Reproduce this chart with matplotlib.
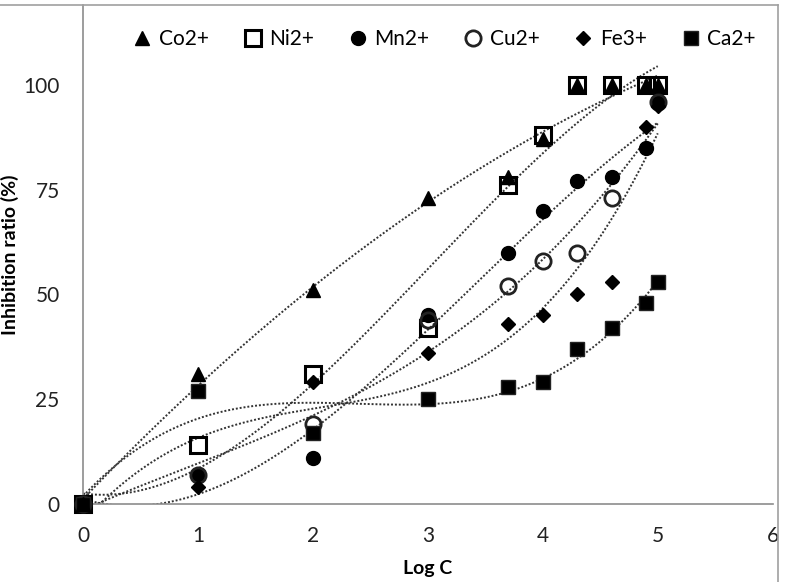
import matplotlib.pyplot as plt
import matplotlib.lines as mlines
import numpy as np

plt.rcParams['font.family'] = ['Lato', 'DejaVu Sans']

# data (Log C vs inhibition ratio %)
log_c = [0, 1, 2, 3, 3.7, 4, 4.3, 4.6, 4.9, 5]
co = [0, 31, 51, 73, 78, 87, 100, 100, 100, 100]
ni = [0, 14, 31, 42, 76, 88, 100, 100, 100, 100]
mn = [0, 7, 11, 45, 60, 70, 77, 78, 85, 96]
log_c_cu = [0, 1, 2, 3, 3.7, 4, 4.3, 4.6, 5]
cu = [0, 7, 19, 44, 52, 58, 60, 73, 96]
fe = [0, 4, 29, 36, 43, 45, 50, 53, 90, 95]
ca = [0, 27, 17, 25, 28, 29, 37, 42, 48, 53]

series = [
    ('Co2+', log_c, co, dict(marker='^', ms=10.5, mfc='black', mec='black'), 2, 4),
    ('Ni2+', log_c, ni, dict(marker='s', ms=11, mfc='none', mec='black', mew=2.2), 3, 3),
    ('Mn2+', log_c, mn, dict(marker='o', ms=10, mfc='black', mec='black'), 3, 3),
    ('Cu2+', log_c_cu, cu, dict(marker='o', ms=11, mfc='none', mec='#222222', mew=2.0), 3, 3),
    ('Fe3+', log_c, fe, dict(marker='D', ms=7, mfc='black', mec='black'), 3, 3),
    ('Ca2+', log_c, ca, dict(marker='s', ms=10.5, mfc='black', mec='#222222'), 3, 3),
]

fig = plt.figure(figsize=(7.86, 5.82), dpi=100)
ax = fig.add_axes([0.106, 0.134, 0.877, 0.857])

xx = np.linspace(0, 5, 300)
handles = []
for name, xs, ys, style, deg, z in series:
    # polynomial trendline, like the spreadsheet's
    coef = np.polyfit(xs, ys, deg)
    ax.plot(xx, np.polyval(coef, xx), linestyle=(0, (1, 1)), color='#333333',
            lw=1.4, zorder=2)
    ax.plot(xs, ys, linestyle='none', zorder=z, clip_on=False, **style)
    handles.append(mlines.Line2D([], [], linestyle='none', label=name, **style))

ax.set_xlim(0, 6)
ax.set_ylim(0, 119)
ax.set_xticks(range(0, 7))
ax.set_yticks([0, 25, 50, 75, 100])
ax.tick_params(length=0, labelsize=15, colors='#222222')
ax.tick_params(axis='y', pad=17)
ax.tick_params(axis='x', pad=16)
for s in ['top', 'right']:
    ax.spines[s].set_visible(False)
for s in ['left', 'bottom']:
    ax.spines[s].set_color('#8c8c8c')
    ax.spines[s].set_linewidth(1.2)
ax.set_xlabel('Log C', fontsize=14, fontweight='bold', labelpad=10)
ax.set_ylabel('Inhibition ratio (%)', fontsize=14, fontweight='bold')
ax.yaxis.set_label_coords(-0.094, 0.5)

ax.legend(handles=handles, loc='upper center', bbox_to_anchor=(0.523, 0.99),
          ncol=6, frameon=False, fontsize=15, handletextpad=0.3,
          columnspacing=1.6, handlelength=1.0)

# chart border (top and right edges visible in the crop)
fig.add_artist(mlines.Line2D([0, 0.990], [0.991, 0.991], color='#a0a0a0',
                             lw=1.2, transform=fig.transFigure))
fig.add_artist(mlines.Line2D([0.990, 0.990], [0, 0.991], color='#a0a0a0',
                             lw=1.2, transform=fig.transFigure))

fig.savefig('out.png', dpi=100)
